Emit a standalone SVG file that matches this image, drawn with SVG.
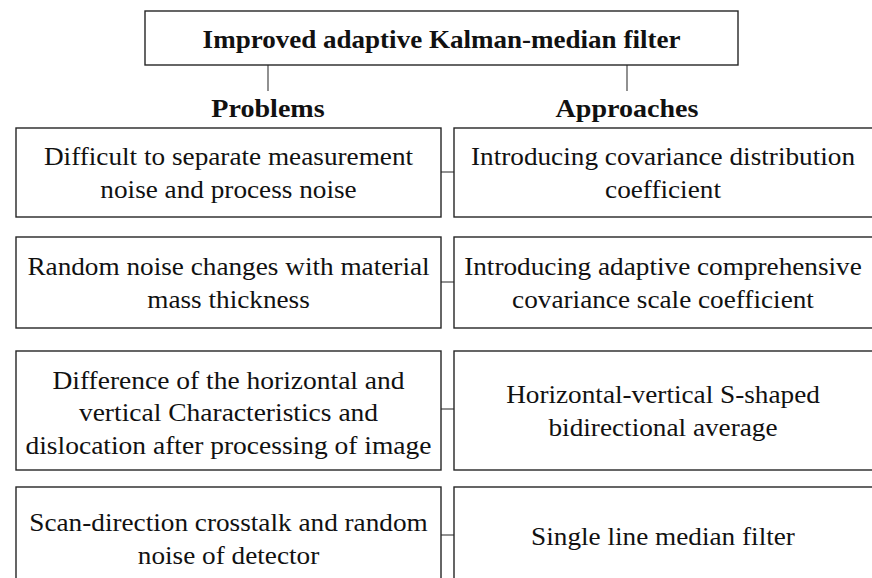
<svg xmlns="http://www.w3.org/2000/svg" width="872" height="578" viewBox="0 0 872 578">
  <style>
    .box { fill: #ffffff; stroke: #262626; stroke-width: 1.4; }
    .link { stroke: #555555; stroke-width: 1.3; fill: none; }
    .t { font-family: "Liberation Serif", "Times New Roman", serif; font-size: 25px; fill: #111111; text-anchor: middle; }
    .b { font-family: "Liberation Serif", "Times New Roman", serif; font-size: 26px; font-weight: bold; fill: #111111; text-anchor: middle; }
  </style>
  <rect width="872" height="578" fill="#ffffff"/>

  <!-- connectors -->
  <g id="connectors">
    <line class="link" x1="268" y1="65" x2="268" y2="91"/>
    <line class="link" x1="627" y1="65" x2="627" y2="91"/>
    <line class="link" x1="441" y1="172" x2="454" y2="172"/>
    <line class="link" x1="441" y1="282" x2="454" y2="282"/>
    <line class="link" x1="441" y1="409" x2="454" y2="409"/>
    <line class="link" x1="441" y1="535" x2="454" y2="535"/>
  </g>

  <!-- root -->
  <g id="root">
    <rect class="box" x="145" y="11" width="593" height="54"/>
    <g transform="translate(441.5 0) scale(1.04 1)">
      <text class="b" x="0" y="48">Improved adaptive Kalman-median filter</text>
    </g>
  </g>

  <!-- column headings -->
  <g id="heading-problems" transform="translate(268 0) scale(1.08 1)">
    <text class="b" x="0" y="117">Problems</text>
  </g>
  <g id="heading-approaches" transform="translate(627 0) scale(1.08 1)">
    <text class="b" x="0" y="117">Approaches</text>
  </g>

  <!-- problems column -->
  <g id="problem-1">
    <rect class="box" x="16" y="128" width="425" height="89"/>
    <g transform="translate(228.5 0) scale(1.09 1)">
      <text class="t" x="0" y="165">Difficult to separate measurement</text>
      <text class="t" x="0" y="198">noise and process noise</text>
    </g>
  </g>
  <g id="problem-2">
    <rect class="box" x="16" y="237" width="425" height="91"/>
    <g transform="translate(228.5 0) scale(1.09 1)">
      <text class="t" x="0" y="275">Random noise changes with material</text>
      <text class="t" x="0" y="308">mass thickness</text>
    </g>
  </g>
  <g id="problem-3">
    <rect class="box" x="16" y="351" width="425" height="119"/>
    <g transform="translate(228.5 0) scale(1.1 1)">
      <text class="t" x="0" y="389">Difference of the horizontal and</text>
      <text class="t" x="0" y="421">vertical Characteristics and</text>
      <text class="t" x="0" y="454">dislocation after processing of image</text>
    </g>
  </g>
  <g id="problem-4">
    <rect class="box" x="16" y="487" width="425" height="110"/>
    <g transform="translate(228.5 0) scale(1.09 1)">
      <text class="t" x="0" y="531">Scan-direction crosstalk and random</text>
      <text class="t" x="0" y="564">noise of detector</text>
    </g>
  </g>

  <!-- approaches column -->
  <g id="approach-1">
    <rect class="box" x="454" y="128" width="430" height="89"/>
    <g transform="translate(663 0) scale(1.09 1)">
      <text class="t" x="0" y="165">Introducing covariance distribution</text>
      <text class="t" x="0" y="198">coefficient</text>
    </g>
  </g>
  <g id="approach-2">
    <rect class="box" x="454" y="237" width="430" height="91"/>
    <g transform="translate(663 0) scale(1.09 1)">
      <text class="t" x="0" y="275">Introducing adaptive comprehensive</text>
      <text class="t" x="0" y="308">covariance scale coefficient</text>
    </g>
  </g>
  <g id="approach-3">
    <rect class="box" x="454" y="351" width="430" height="119"/>
    <g transform="translate(663 0) scale(1.09 1)">
      <text class="t" x="0" y="403">Horizontal-vertical S-shaped</text>
      <text class="t" x="0" y="436">bidirectional average</text>
    </g>
  </g>
  <g id="approach-4">
    <rect class="box" x="454" y="487" width="430" height="110"/>
    <g transform="translate(663 0) scale(1.09 1)">
      <text class="t" x="0" y="545">Single line median filter</text>
    </g>
  </g>
</svg>
